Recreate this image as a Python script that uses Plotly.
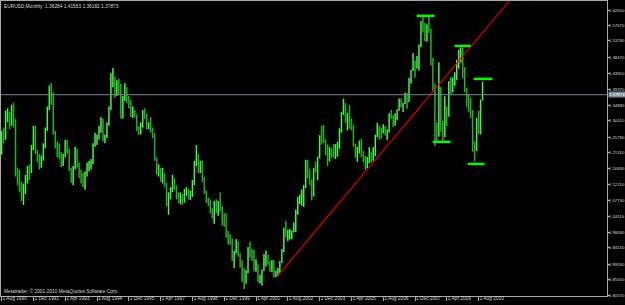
import plotly.graph_objects as go
import pandas as pd

# ---------------- data (monthly EURUSD, Aug 1990 .. Oct 2010) ----------------
FIRST_MONTH = "1990-08"

OPEN = [
    1.215, 1.262, 1.255, 1.315, 1.320,                                                    # 1990 Aug-Dec
    1.300, 1.340, 1.290, 1.160, 1.130, 1.120, 1.080, 1.115, 1.130, 1.170, 1.160, 1.230,   # 1991
    1.285, 1.215, 1.190, 1.180, 1.195, 1.235, 1.280, 1.340, 1.395, 1.375, 1.270, 1.235,   # 1992
    1.210, 1.200, 1.185, 1.205, 1.245, 1.220, 1.165, 1.130, 1.170, 1.210, 1.180, 1.145,   # 1993
    1.130, 1.120, 1.155, 1.175, 1.180, 1.185, 1.235, 1.255, 1.260, 1.285, 1.305, 1.250,   # 1994
    1.260, 1.295, 1.340, 1.420, 1.425, 1.390, 1.415, 1.405, 1.325, 1.370, 1.395, 1.365,   # 1995
    1.360, 1.320, 1.330, 1.320, 1.280, 1.270, 1.290, 1.330, 1.320, 1.285, 1.290, 1.275,   # 1996
    1.265, 1.195, 1.160, 1.165, 1.135, 1.150, 1.120, 1.065, 1.090, 1.110, 1.135, 1.115,   # 1997
    1.090, 1.075, 1.085, 1.075, 1.100, 1.105, 1.090, 1.100, 1.125, 1.185, 1.205, 1.165,   # 1998
    1.175, 1.140, 1.100, 1.080, 1.065, 1.045, 1.035, 1.070, 1.060, 1.070, 1.055, 1.010,   # 1999
    1.007, 0.971, 0.965, 0.956, 0.910, 0.933, 0.953, 0.926, 0.888, 0.882, 0.850, 0.873,   # 2000
    0.941, 0.932, 0.921, 0.879, 0.887, 0.847, 0.849, 0.876, 0.911, 0.913, 0.904, 0.890,   # 2001
    0.891, 0.859, 0.870, 0.872, 0.902, 0.933, 0.991, 0.977, 0.981, 0.986, 0.989, 0.993,   # 2002
    1.049, 1.073, 1.078, 1.090, 1.117, 1.180, 1.149, 1.124, 1.098, 1.166, 1.159, 1.199,   # 2003
    1.259, 1.247, 1.247, 1.230, 1.196, 1.220, 1.216, 1.202, 1.217, 1.241, 1.277, 1.327,   # 2004
    1.355, 1.303, 1.326, 1.296, 1.287, 1.230, 1.209, 1.213, 1.234, 1.203, 1.200, 1.179,   # 2005
    1.184, 1.216, 1.192, 1.212, 1.262, 1.282, 1.279, 1.277, 1.282, 1.267, 1.276, 1.324,   # 2006
    1.320, 1.302, 1.323, 1.335, 1.366, 1.345, 1.353, 1.370, 1.366, 1.426, 1.448, 1.466,   # 2007
    1.460, 1.485, 1.518, 1.578, 1.560, 1.555, 1.576, 1.561, 1.467, 1.409, 1.272, 1.270,   # 2008
    1.397, 1.280, 1.269, 1.325, 1.323, 1.416, 1.404, 1.424, 1.434, 1.464, 1.471, 1.500,   # 2009
    1.433, 1.386, 1.363, 1.351, 1.329, 1.227, 1.223, 1.305, 1.268, 1.36284,               # 2010 Jan-Oct
]
HIGH = [
    1.275, 1.285, 1.333, 1.340, 1.330,
    1.350, 1.356, 1.310, 1.170, 1.165, 1.130, 1.125, 1.150, 1.175, 1.180, 1.235, 1.290,
    1.290, 1.222, 1.210, 1.205, 1.240, 1.285, 1.345, 1.405, 1.412, 1.386, 1.275, 1.245,
    1.240, 1.215, 1.210, 1.250, 1.250, 1.225, 1.170, 1.175, 1.230, 1.225, 1.185, 1.165,
    1.155, 1.160, 1.185, 1.190, 1.195, 1.240, 1.270, 1.265, 1.290, 1.315, 1.310, 1.265,
    1.300, 1.345, 1.440, 1.455, 1.430, 1.420, 1.425, 1.410, 1.375, 1.412, 1.400, 1.375,
    1.364, 1.345, 1.335, 1.322, 1.290, 1.300, 1.335, 1.340, 1.325, 1.300, 1.315, 1.285,
    1.270, 1.200, 1.180, 1.170, 1.170, 1.155, 1.127, 1.100, 1.115, 1.150, 1.140, 1.120,
    1.100, 1.100, 1.095, 1.110, 1.115, 1.110, 1.105, 1.135, 1.190, 1.235, 1.210, 1.190,
    1.190, 1.145, 1.105, 1.085, 1.080, 1.055, 1.075, 1.080, 1.075, 1.100, 1.060, 1.040,
    1.040, 0.990, 0.980, 0.968, 0.934, 0.967, 0.960, 0.927, 0.906, 0.885, 0.878, 0.944,
    0.959, 0.939, 0.935, 0.909, 0.896, 0.865, 0.880, 0.924, 0.933, 0.922, 0.904, 0.907,
    0.906, 0.877, 0.885, 0.904, 0.938, 0.999, 1.019, 0.993, 0.995, 0.991, 1.014, 1.050,
    1.087, 1.093, 1.108, 1.121, 1.193, 1.193, 1.167, 1.137, 1.170, 1.188, 1.202, 1.263,
    1.290, 1.293, 1.251, 1.237, 1.230, 1.226, 1.238, 1.238, 1.244, 1.283, 1.330, 1.367,
    1.355, 1.327, 1.349, 1.311, 1.293, 1.239, 1.230, 1.248, 1.253, 1.218, 1.204, 1.201,
    1.229, 1.216, 1.229, 1.264, 1.298, 1.290, 1.285, 1.294, 1.289, 1.280, 1.326, 1.336,
    1.321, 1.326, 1.337, 1.368, 1.368, 1.355, 1.385, 1.383, 1.427, 1.450, 1.498, 1.476,
    1.490, 1.523, 1.590, 1.603, 1.584, 1.580, 1.604, 1.568, 1.484, 1.410, 1.300, 1.471,
    1.401, 1.305, 1.374, 1.345, 1.418, 1.429, 1.428, 1.443, 1.478, 1.508, 1.514, 1.512,
    1.458, 1.399, 1.380, 1.369, 1.335, 1.246, 1.313, 1.333, 1.365, 1.41563,
]
LOW = [
    1.207, 1.240, 1.250, 1.300, 1.280,
    1.290, 1.285, 1.145, 1.120, 1.100, 1.075, 1.064, 1.095, 1.125, 1.135, 1.155, 1.220,
    1.210, 1.185, 1.165, 1.170, 1.190, 1.225, 1.275, 1.335, 1.350, 1.265, 1.225, 1.200,
    1.195, 1.172, 1.175, 1.200, 1.210, 1.160, 1.127, 1.120, 1.165, 1.170, 1.140, 1.125,
    1.115, 1.107, 1.145, 1.160, 1.165, 1.180, 1.230, 1.235, 1.250, 1.270, 1.245, 1.240,
    1.255, 1.290, 1.335, 1.400, 1.370, 1.375, 1.380, 1.310, 1.310, 1.360, 1.355, 1.340,
    1.315, 1.312, 1.315, 1.275, 1.264, 1.265, 1.285, 1.310, 1.280, 1.280, 1.270, 1.255,
    1.190, 1.150, 1.145, 1.130, 1.125, 1.115, 1.060, 1.036, 1.080, 1.100, 1.107, 1.080,
    1.070, 1.065, 1.064, 1.070, 1.090, 1.080, 1.078, 1.087, 1.120, 1.175, 1.155, 1.155,
    1.130, 1.095, 1.070, 1.061, 1.040, 1.025, 1.010, 1.040, 1.033, 1.045, 1.005, 1.002,
    0.970, 0.950, 0.950, 0.904, 0.884, 0.925, 0.917, 0.885, 0.844, 0.823, 0.839, 0.868,
    0.913, 0.904, 0.875, 0.873, 0.843, 0.840, 0.834, 0.875, 0.888, 0.893, 0.873, 0.872,
    0.856, 0.858, 0.862, 0.869, 0.898, 0.929, 0.971, 0.960, 0.965, 0.966, 0.986, 0.987,
    1.036, 1.066, 1.062, 1.058, 1.112, 1.140, 1.120, 1.077, 1.088, 1.157, 1.134, 1.197,
    1.236, 1.241, 1.206, 1.175, 1.188, 1.199, 1.199, 1.195, 1.202, 1.224, 1.270, 1.321,
    1.298, 1.277, 1.282, 1.277, 1.230, 1.199, 1.187, 1.211, 1.201, 1.186, 1.164, 1.169,
    1.183, 1.185, 1.190, 1.204, 1.258, 1.250, 1.253, 1.268, 1.262, 1.249, 1.271, 1.310,
    1.286, 1.290, 1.306, 1.333, 1.342, 1.329, 1.352, 1.338, 1.358, 1.410, 1.446, 1.428,
    1.453, 1.448, 1.514, 1.556, 1.532, 1.530, 1.555, 1.462, 1.390, 1.233, 1.243, 1.259,
    1.273, 1.246, 1.257, 1.289, 1.316, 1.380, 1.385, 1.404, 1.420, 1.453, 1.470, 1.425,
    1.386, 1.343, 1.328, 1.312, 1.216, 1.188, 1.218, 1.266, 1.265, 1.36182,
]
CLOSE = [
    1.262, 1.255, 1.315, 1.320, 1.300,
    1.340, 1.290, 1.160, 1.130, 1.120, 1.080, 1.115, 1.130, 1.170, 1.160, 1.230, 1.285,
    1.215, 1.190, 1.180, 1.195, 1.235, 1.280, 1.340, 1.395, 1.375, 1.270, 1.235, 1.210,
    1.200, 1.185, 1.205, 1.245, 1.220, 1.165, 1.130, 1.170, 1.210, 1.180, 1.145, 1.130,
    1.120, 1.155, 1.175, 1.180, 1.185, 1.235, 1.255, 1.260, 1.285, 1.305, 1.250, 1.260,
    1.295, 1.340, 1.420, 1.425, 1.390, 1.415, 1.405, 1.325, 1.370, 1.395, 1.365, 1.360,
    1.320, 1.330, 1.320, 1.280, 1.270, 1.290, 1.330, 1.320, 1.285, 1.290, 1.275, 1.265,
    1.195, 1.160, 1.165, 1.135, 1.150, 1.120, 1.065, 1.090, 1.110, 1.135, 1.115, 1.090,
    1.075, 1.085, 1.075, 1.100, 1.105, 1.090, 1.100, 1.125, 1.185, 1.205, 1.165, 1.175,
    1.140, 1.100, 1.080, 1.065, 1.045, 1.035, 1.070, 1.060, 1.070, 1.055, 1.010, 1.007,
    0.971, 0.965, 0.956, 0.910, 0.933, 0.953, 0.926, 0.888, 0.882, 0.850, 0.873, 0.941,
    0.932, 0.921, 0.879, 0.887, 0.847, 0.849, 0.876, 0.911, 0.913, 0.904, 0.890, 0.891,
    0.859, 0.870, 0.872, 0.902, 0.933, 0.991, 0.977, 0.981, 0.986, 0.989, 0.993, 1.049,
    1.073, 1.078, 1.090, 1.117, 1.180, 1.149, 1.124, 1.098, 1.166, 1.159, 1.199, 1.259,
    1.247, 1.247, 1.230, 1.196, 1.220, 1.216, 1.202, 1.217, 1.241, 1.277, 1.327, 1.355,
    1.303, 1.326, 1.296, 1.287, 1.230, 1.209, 1.213, 1.234, 1.203, 1.200, 1.179, 1.184,
    1.216, 1.192, 1.212, 1.262, 1.282, 1.279, 1.277, 1.282, 1.267, 1.276, 1.324, 1.320,
    1.302, 1.323, 1.335, 1.366, 1.345, 1.353, 1.370, 1.366, 1.426, 1.448, 1.466, 1.460,
    1.485, 1.518, 1.578, 1.560, 1.555, 1.576, 1.561, 1.467, 1.409, 1.272, 1.270, 1.397,
    1.280, 1.269, 1.325, 1.323, 1.416, 1.404, 1.424, 1.434, 1.464, 1.471, 1.500, 1.433,
    1.386, 1.363, 1.351, 1.329, 1.227, 1.223, 1.305, 1.268, 1.362, 1.37873,
]

TICK_LABELS = ["1 Aug 1990", "1 Dec 1991", "1 Apr 1993", "1 Aug 1994", "1 Dec 1995",
               "1 Apr 1997", "1 Aug 1998", "1 Dec 1999", "1 Apr 2001", "1 Aug 2002",
               "1 Dec 2003", "1 Apr 2005", "1 Aug 2006", "1 Dec 2007", "1 Apr 2009",
               "1 Aug 2010"]
PRICE_TICKS = [1.62050, 1.57670, 1.53290, 1.48470, 1.43950, 1.39370, 1.34890, 1.30410,
               1.25790, 1.21310, 1.16830, 1.12210, 1.07730, 1.03110, 0.98630, 0.94150,
               0.89530, 0.85050, 0.80570]

# manually drawn objects (month index, price)
TREND_X = [138.4, 256.0]
TREND_Y = [0.858, 1.650]
LEVEL_PRICE = [1.6038, 1.5180, 1.4238, 1.2440, 1.1810]
LEVEL_FROM = [208.8, 227.9, 237.5, 216.9, 234.5]
LEVEL_TO = [217.9, 236.0, 247.0, 225.9, 243.0]

TITLE = "EURUSD,Monthly  1.36284 1.41563 1.36182 1.37873"
COPYRIGHT = "Metatrader, \u00a9 2001-2010 MetaQuotes Software Corp."

# ---------------- figure ----------------
months = pd.period_range(FIRST_MONTH, periods=len(CLOSE), freq="M")
month_labels = ["1 %s %d" % (m.strftime("%b"), m.year) for m in months]
idx = list(range(len(CLOSE)))
tickvals = [month_labels.index(t) for t in TICK_LABELS]
bid = CLOSE[-1]

FONT = "Liberation Sans"
AXIS_COL = "#a9a9a9"
TEXT_COL = "#d8d8d8"

fig = go.Figure()
fig.add_trace(go.Ohlc(
    x=idx, open=OPEN, high=HIGH, low=LOW, close=CLOSE,
    increasing=dict(line=dict(color="#4cf04c", width=1.5)),
    decreasing=dict(line=dict(color="#26b026", width=1.5)),
    tickwidth=0, hoverinfo="skip", showlegend=False))

fig.add_trace(go.Scatter(x=TREND_X, y=TREND_Y, mode="lines",
                         line=dict(color="#e00000", width=1.2),
                         hoverinfo="skip", showlegend=False))

for p, a, b in zip(LEVEL_PRICE, LEVEL_FROM, LEVEL_TO):
    fig.add_trace(go.Scatter(x=[a, b], y=[p, p], mode="lines",
                             line=dict(color="#11f011", width=2.6),
                             hoverinfo="skip", showlegend=False))

fig.add_shape(type="line", xref="paper", x0=0, x1=1, yref="y", y0=bid, y1=bid,
              line=dict(color="#778899", width=1))

fig.add_annotation(xref="paper", x=1, xanchor="left", yref="y", y=bid,
                   text="%.5f" % bid, showarrow=False, xshift=1,
                   bgcolor="#778899", borderpad=0,
                   font=dict(family=FONT, size=4.3, color="#ffffff"))

fig.add_annotation(xref="paper", yref="paper", x=0, y=1, xanchor="left", yanchor="top",
                   text=TITLE, showarrow=False, xshift=1, yshift=-1,
                   font=dict(family=FONT, size=4.8, color=TEXT_COL))
fig.add_annotation(xref="paper", yref="paper", x=0, y=0, xanchor="left", yanchor="bottom",
                   text=COPYRIGHT, showarrow=False, xshift=1, yshift=0,
                   font=dict(family=FONT, size=4.8, color=TEXT_COL))

fig.update_layout(
    width=625, height=305,
    margin=dict(l=1, r=18, t=1, b=9),
    paper_bgcolor="#000000", plot_bgcolor="#000000",
    showlegend=False,
    xaxis=dict(range=[-0.3, 304.6], tickmode="array", tickvals=tickvals, ticktext=TICK_LABELS,
               ticks="outside", ticklen=4, tickwidth=1, tickcolor=AXIS_COL,
               ticklabelposition="outside right", ticklabelstandoff=-3, tickangle=0,
               tickfont=dict(family=FONT, size=4.8, color=TEXT_COL),
               showgrid=False, zeroline=False, showline=True, linecolor=AXIS_COL,
               linewidth=1, mirror=True, rangeslider=dict(visible=False),
               automargin=False, fixedrange=True),
    yaxis=dict(range=[0.8040, 1.6462], side="right", tickmode="array",
               tickvals=PRICE_TICKS, ticktext=["%.5f" % v for v in PRICE_TICKS],
               ticks="outside", ticklen=2, tickwidth=1, tickcolor=AXIS_COL,
               ticklabelstandoff=-2,
               tickfont=dict(family=FONT, size=4.3, color=TEXT_COL),
               showgrid=False, zeroline=False, showline=True, linecolor=AXIS_COL,
               linewidth=1, mirror=True, automargin=False, fixedrange=True),
)

fig.write_html("out.html")
